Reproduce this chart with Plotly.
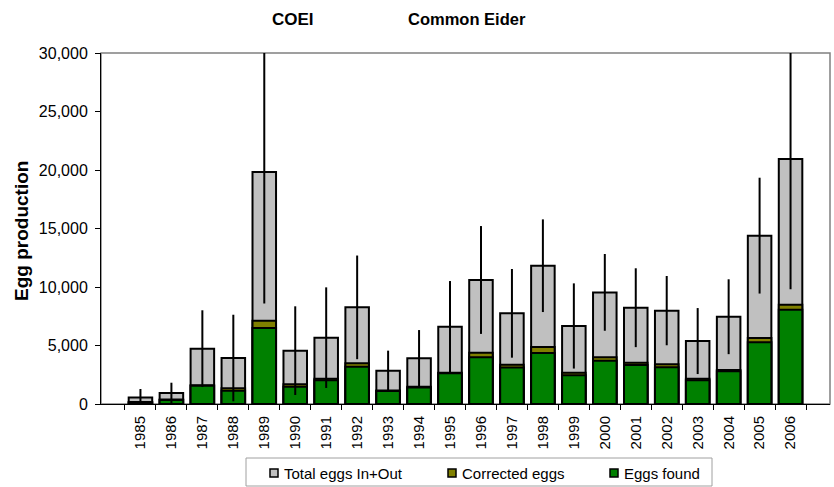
import plotly.graph_objects as go

# Common Eider (COEI) egg production by year
years = [str(y) for y in range(1985, 2007)]
total_eggs = [560, 940, 4730, 3930, 19830, 4560, 5670, 8260, 2850, 3900, 6610,
              10600, 7750, 11820, 6670, 9540, 8230, 7980, 5380, 7460, 14390, 20940]
corrected_eggs = [180, 380, 1600, 1340, 7120, 1680, 2160, 3480, 1150, 1470, 2680,
                  4390, 3360, 4870, 2680, 3990, 3530, 3390, 2150, 2900, 5640, 8490]
eggs_found = [120, 340, 1560, 1140, 6500, 1480, 2020, 3190, 1110, 1420, 2620,
              3990, 3130, 4360, 2450, 3700, 3330, 3140, 2020, 2790, 5270, 8060]
total_error = [720, 880, 3280, 3700, 11250, 3790, 4300, 4430, 1710, 2420, 3900,
               4610, 3790, 3960, 3640, 3280, 3370, 2960, 2820, 3200, 4950, 11140]

series_names = ["Total eggs In+Out", "Corrected eggs", "Eggs found"]
series_colors = ["#C0C0C0", "#808000", "#008000"]
series_values = [total_eggs, corrected_eggs, eggs_found]

FONT = "Arial, Liberation Sans, sans-serif"

# plot-area geometry in pixels, used to place the legend box in paper units
PLOT_L, PLOT_R, PLOT_T, PLOT_B = 101, 830, 53, 404


def px_x(px):
    return (px - PLOT_L) / (PLOT_R - PLOT_L)


def px_y(py):
    return (PLOT_B - py) / (PLOT_B - PLOT_T)


fig = go.Figure()
for name, color, vals in zip(series_names, series_colors, series_values):
    fig.add_trace(go.Bar(
        x=years, y=vals, name=name,
        marker=dict(color=color, line=dict(color="black", width=2)),
        width=0.76, showlegend=False,
    ))

# error whiskers on the totals, drawn above all bars
fig.add_trace(go.Scatter(
    x=years, y=total_eggs, mode="markers",
    marker=dict(size=0.1, color="rgba(0,0,0,0)"),
    error_y=dict(type="data", array=total_error, symmetric=True,
                 width=0, thickness=2, color="black"),
    showlegend=False, hoverinfo="skip",
))

# legend: bordered box with a swatch and label per series
shapes = [
    dict(type="rect", xref="paper", yref="paper", x0=0, x1=1, y0=0, y1=1,
         line=dict(color="#808080", width=1.5), layer="below"),
    dict(type="rect", xref="paper", yref="paper",
         x0=px_x(246), x1=px_x(712), y0=px_y(458), y1=px_y(486),
         line=dict(color="#A0A0A0", width=1), fillcolor="white"),
]
annotations = []
swatch_left = [270, 448, 610]
for left, name, color in zip(swatch_left, series_names, series_colors):
    shapes.append(dict(type="rect", xref="paper", yref="paper",
                       x0=px_x(left), x1=px_x(left + 8),
                       y0=px_y(469), y1=px_y(477),
                       fillcolor=color, line=dict(color="black", width=1.5)))
    annotations.append(dict(text=name, x=px_x(left + 12), y=px_y(473),
                            xref="paper", yref="paper", xanchor="left",
                            yanchor="middle", showarrow=False,
                            font=dict(size=15)))

annotations += [
    dict(text="<b>COEI</b>", x=px_x(293), y=px_y(19), xref="paper",
         yref="paper", xanchor="center", yanchor="middle", showarrow=False,
         font=dict(size=17)),
    dict(text="<b>Common Eider</b>", x=px_x(406), y=px_y(19), xref="paper",
         yref="paper", xanchor="left", yanchor="middle", showarrow=False,
         font=dict(size=16.5)),
    dict(text="<b>Egg production</b>", x=px_x(21), y=px_y(231), xref="paper",
         yref="paper", xanchor="center", yanchor="middle", textangle=-90,
         showarrow=False, font=dict(size=19)),
]

fig.update_layout(
    width=834, height=487,
    margin=dict(l=PLOT_L, r=834 - PLOT_R, t=PLOT_T, b=487 - PLOT_B),
    barmode="overlay",
    plot_bgcolor="white", paper_bgcolor="white",
    font=dict(family=FONT, size=15, color="black"),
    showlegend=False,
    xaxis=dict(
        type="category", showline=True, linecolor="black", linewidth=1,
        ticks="outside", tickson="boundaries", ticklen=5, tickcolor="black",
        tickangle=-90, showgrid=False, tickfont=dict(size=15),
        ticklabelstandoff=5, automargin=False,
    ),
    yaxis=dict(
        range=[0, 30000], dtick=5000, tickformat=",",
        showline=True, linecolor="black", linewidth=1, ticks="outside",
        ticklen=5, tickcolor="black", showgrid=False, zeroline=False,
        tickfont=dict(size=16), ticklabelstandoff=4, automargin=False,
    ),
    shapes=shapes,
    annotations=annotations,
)

fig.write_html("out.html")
